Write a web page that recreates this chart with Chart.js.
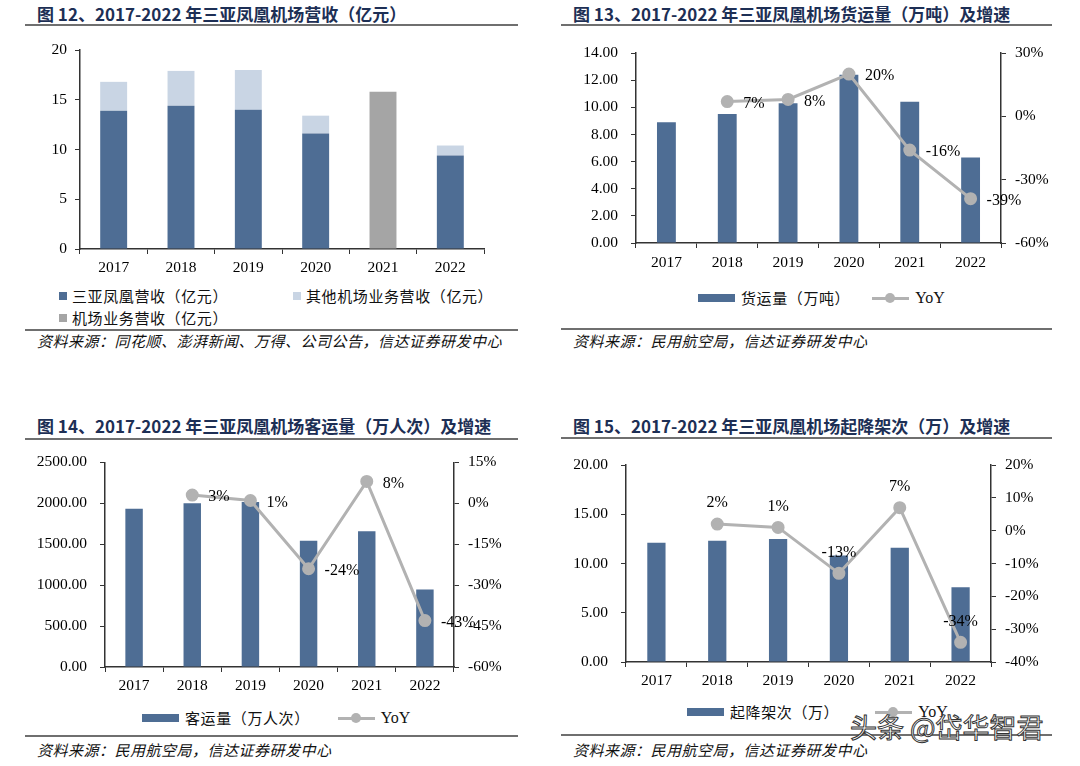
<!DOCTYPE html>
<html>
<head>
<meta charset="utf-8">
<script src="https://cdn.jsdelivr.net/npm/chart.js@4.4.0/dist/chart.umd.min.js"></script>
<style>
  body { margin: 0; width: 1080px; height: 766px; background: #fff; position: relative; overflow: hidden;
         font-family: "Noto Sans CJK SC", sans-serif; }
  .title { position: absolute; font-weight: bold; font-size: 17px; color: #1d2f55; line-height: 20px; white-space: nowrap; }
  .rule { position: absolute; height: 2px; background: #6f6f6f; }
  .src { position: absolute; font-style: italic; font-size: 15px; letter-spacing: 0.5px; color: #111; line-height: 18px; white-space: nowrap; }
  canvas { position: absolute; }
  .leg { position: absolute; font-size: 15px; letter-spacing: 0.6px; color: #111; line-height: 18px; white-space: nowrap; display: flex; align-items: center; }
  .sq { display: inline-block; width: 8px; height: 8px; margin-right: 5px; }
  .sw { display: inline-block; width: 37px; height: 8px; margin-right: 6px; }
  .ln { display: inline-block; position: relative; width: 37px; height: 10px; margin-right: 6px; }
  .ln i { position: absolute; left: 0; right: 0; top: 4px; height: 3px; }
  .ln b { position: absolute; left: 13px; top: 0; width: 10px; height: 10px; border-radius: 50%; }
  .yoy { font-family: "Liberation Serif", serif; font-size: 16px; letter-spacing: 0; }
  .wm { position: absolute; left: 850px; top: 711px; font-size: 27px; color: #fff; -webkit-text-stroke: 1px #333;
        white-space: nowrap; line-height: 32px; }
</style>
</head>
<body>

<div class="title" style="left:37px;top:4px">图 12、2017-2022 年三亚凤凰机场营收（亿元）</div>
<div class="rule" style="left:25px;top:24px;width:493px"></div>
<canvas id="revChart" width="540" height="250" style="left:0;top:30px"></canvas>
<div class="leg" style="left:59px;top:287px" id="revLeg1"></div>
<div class="leg" style="left:293px;top:287px" id="revLeg2"></div>
<div class="leg" style="left:59px;top:309px" id="revLeg3"></div>
<div class="rule" style="left:25px;top:329px;width:493px"></div>
<div class="src" style="left:37px;top:332px">资料来源：同花顺、澎湃新闻、万得、公司公告，信达证券研发中心</div>

<div class="title" style="left:573px;top:4px">图 13、2017-2022 年三亚凤凰机场货运量（万吨）及增速</div>
<div class="rule" style="left:561px;top:24px;width:491px"></div>
<canvas id="cargoChart" width="540" height="250" style="left:540px;top:30px"></canvas>
<div class="leg" style="left:698px;top:289px" id="cargoLeg"></div>
<div class="rule" style="left:561px;top:328px;width:491px"></div>
<div class="src" style="left:573px;top:332px">资料来源：民用航空局，信达证券研发中心</div>

<div class="title" style="left:37px;top:416px">图 14、2017-2022 年三亚凤凰机场客运量（万人次）及增速</div>
<div class="rule" style="left:25px;top:438px;width:493px"></div>
<canvas id="paxChart" width="540" height="260" style="left:0;top:440px"></canvas>
<div class="leg" style="left:142px;top:709px" id="paxLeg"></div>
<div class="rule" style="left:25px;top:735px;width:493px"></div>
<div class="src" style="left:37px;top:741px">资料来源：民用航空局，信达证券研发中心</div>

<div class="title" style="left:573px;top:416px">图 15、2017-2022 年三亚凤凰机场起降架次（万）及增速</div>
<div class="rule" style="left:561px;top:437px;width:491px"></div>
<canvas id="flightChart" width="540" height="260" style="left:540px;top:440px"></canvas>
<div class="leg" style="left:687px;top:703px" id="flightLeg"></div>
<div class="rule" style="left:561px;top:734px;width:491px"></div>
<div class="src" style="left:573px;top:741px">资料来源：民用航空局，信达证券研发中心</div>

<div class="wm">头条 @岱华智君</div>

<script>
const years = ['2017', '2018', '2019', '2020', '2021', '2022'];

// 图12 营收（亿元）
const phoenixRev = [13.9, 14.4, 14.0, 11.6, null, 9.4];
const otherRev = [2.9, 3.5, 4.0, 1.8, null, 1.0];
const airportRev = [null, null, null, null, 15.8, null];

// 图13 货运量（万吨）
const cargo = [8.9, 9.5, 10.3, 12.4, 10.4, 6.3];
const cargoYoY = [null, 7, 8, 20, -16, -39];

// 图14 客运量（万人次）
const passengers = [1934, 2001, 2016, 1541, 1659, 947];
const passengerYoY = [null, 3, 1, -24, 8, -43];

// 图15 起降架次（万）
const flights = [12.1, 12.3, 12.5, 10.8, 11.6, 7.6];
const flightYoY = [null, 2, 1, -13, 7, -34];

const BLUE = '#4e6d94';
const LIGHT = '#c9d5e4';
const GREY = '#a5a5a5';
const LINE = '#b2b2b2';
const AXIS = '#333';
const tickFont = { family: '"Liberation Serif", serif', size: 15.5 };

// 折线数据标签
const pointLabels = {
    id: 'pointLabels',
    afterDatasetsDraw(chart, args, opts) {
        const ds = chart.data.datasets[opts.index];
        const meta = chart.getDatasetMeta(opts.index);
        const ctx = chart.ctx;
        ctx.save();
        ctx.font = '16px "Liberation Serif", serif';
        ctx.fillStyle = '#000';
        meta.data.forEach(function (pt, i) {
            const v = ds.data[i];
            if (v === null) return;
            if (opts.place === 'top') {
                ctx.textAlign = 'center';
                ctx.textBaseline = 'middle';
                ctx.fillText(v + '%', pt.x, pt.y - 21);
            } else {
                ctx.textAlign = 'left';
                ctx.textBaseline = 'middle';
                ctx.fillText(v + '%', pt.x + 16, pt.y + 2);
            }
        });
        ctx.restore();
    }
};

function xAxis(height, pad) {
    return {
        stacked: true,
        offset: true,
        grid: { display: true, drawOnChartArea: false, offset: true, tickLength: 5, color: AXIS },
        border: { color: AXIS, width: 1.5 },
        ticks: { font: tickFont, color: '#000', padding: pad },
        afterFit: function (s) { s.height = height; }
    };
}

function yAxis(pos, width, min, max, step, fmt, pad) {
    return {
        position: pos,
        min: min, max: max,
        grid: { display: true, drawOnChartArea: false, tickLength: 5, color: AXIS },
        border: { color: AXIS, width: 1.5 },
        ticks: { stepSize: step, font: tickFont, color: '#000', padding: pad, callback: fmt },
        afterFit: function (s) { s.width = width; }
    };
}

const base = {
    responsive: false,
    animation: false,
    events: []
};

// 图12
new Chart(document.getElementById('revChart'), {
    type: 'bar',
    data: {
        labels: years,
        datasets: [
            { label: '三亚凤凰营收（亿元）', data: phoenixRev, backgroundColor: BLUE, barPercentage: 0.4, categoryPercentage: 1 },
            { label: '其他机场业务营收（亿元）', data: otherRev, backgroundColor: LIGHT, barPercentage: 0.4, categoryPercentage: 1 },
            { label: '机场业务营收（亿元）', data: airportRev, backgroundColor: GREY, barPercentage: 0.4, categoryPercentage: 1 }
        ]
    },
    options: Object.assign({}, base, {
        layout: { padding: { top: 20, right: 56, left: 0, bottom: 0 } },
        plugins: { legend: { display: false }, tooltip: { enabled: false } },
        scales: {
            x: xAxis(31, 5),
            y: Object.assign(yAxis('left', 80, 0, 20, 5, v => v, 8), { stacked: true })
        }
    })
});

function comboChart(id, bars, barLabel, yoy, o) {
    return new Chart(document.getElementById(id), {
        type: 'bar',
        data: {
            labels: years,
            datasets: [
                { type: 'line', label: 'YoY', data: yoy, yAxisID: 'y1', order: 0,
                  borderColor: LINE, backgroundColor: LINE, borderWidth: 3,
                  pointRadius: 5, pointBackgroundColor: LINE, pointBorderColor: LINE, tension: 0 },
                { label: barLabel, data: bars, yAxisID: 'y', order: 1, backgroundColor: BLUE,
                  barPercentage: o.bar, categoryPercentage: 1 }
            ]
        },
        options: Object.assign({}, base, {
            layout: { padding: { top: o.top, right: 0, left: 0, bottom: 0 } },
            plugins: {
                legend: { display: false }, tooltip: { enabled: false },
                pointLabels: { index: 0, place: o.place }
            },
            scales: {
                x: xAxis(o.xh, o.xpad),
                y: yAxis('left', o.yw, 0, o.ymax, o.ystep, v => v.toFixed(2), 13),
                y1: yAxis('right', o.y1w, o.rmin, o.rmax, o.rstep, v => v + '%', 9)
            }
        }),
        plugins: [pointLabels]
    });
}

comboChart('cargoChart', cargo, '货运量（万吨）', cargoYoY,
    { bar: 0.31, top: 23, xh: 37, xpad: 6, yw: 96, y1w: 79, ymax: 14, ystep: 2, rmin: -60, rmax: 30, rstep: 30, place: 'right' });
comboChart('paxChart', passengers, '客运量（万人次）', passengerYoY,
    { bar: 0.3, top: 15, xh: 33, xpad: 5, yw: 105, y1w: 86, ymax: 2500, ystep: 500, rmin: -60, rmax: 15, rstep: 15, place: 'right' });
comboChart('flightChart', flights, '起降架次（万）', flightYoY,
    { bar: 0.3, top: 25, xh: 38, xpad: 5, yw: 86, y1w: 89, ymax: 20, ystep: 5, rmin: -40, rmax: 20, rstep: 10, place: 'top' });

// 图例
function sqItem(color, text) {
    return '<span class="sq" style="background:' + color + '"></span>' + text;
}
function comboLegend(id, text, lineLeft) {
    document.getElementById(id).innerHTML =
        '<span class="sw" style="background:' + BLUE + '"></span><span>' + text + '</span>' +
        '<span style="display:inline-block;width:' + lineLeft + 'px"></span>' +
        '<span class="ln"><i style="background:' + LINE + '"></i><b style="background:' + LINE + '"></b></span>' +
        '<span class="yoy">YoY</span>';
}
document.getElementById('revLeg1').innerHTML = sqItem(BLUE, '三亚凤凰营收（亿元）');
document.getElementById('revLeg2').innerHTML = sqItem(LIGHT, '其他机场业务营收（亿元）');
document.getElementById('revLeg3').innerHTML = sqItem(GREY, '机场业务营收（亿元）');
comboLegend('cargoLeg', '货运量（万吨）', 22);
comboLegend('paxLeg', '客运量（万人次）', 28);
comboLegend('flightLeg', '起降架次（万）', 36);
</script>
</body>
</html>
